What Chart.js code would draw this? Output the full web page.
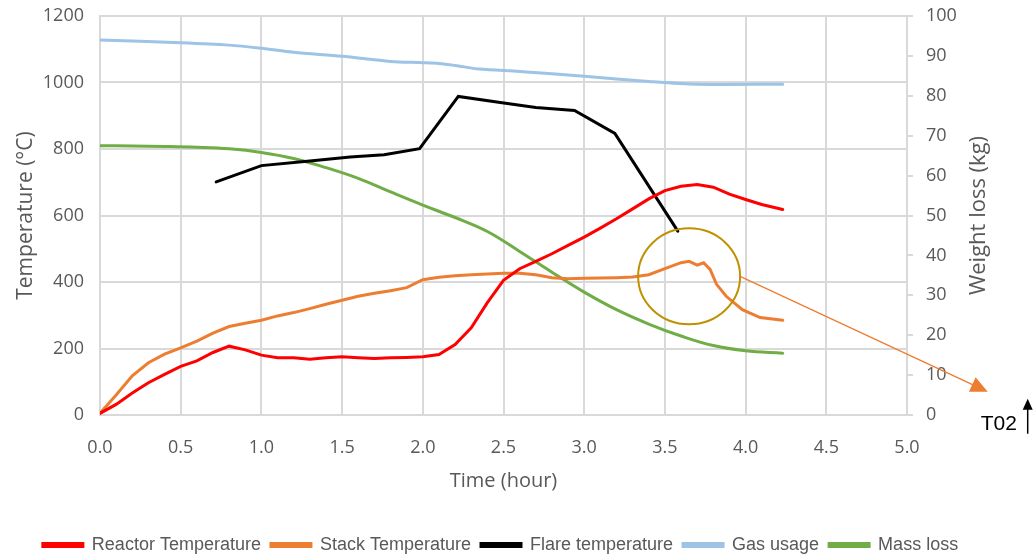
<!DOCTYPE html>
<html lang="en">
<head>
<meta charset="UTF-8">
<title>Reactor run T02 - temperatures and weight loss</title>
<script src="https://cdn.jsdelivr.net/npm/chart.js"></script>
<style>
  html, body { margin: 0; padding: 0; background: #fff; }
  .wrap { width: 1035px; height: 557px; position: relative; }
</style>
</head>
<body>
<div class="wrap"><canvas id="runChart"></canvas></div>
<script>
// time in hours, temperatures in degC, gas usage / mass loss in kg
const reactorTime = [0, 0.1, 0.2, 0.3, 0.4, 0.5, 0.6, 0.7, 0.8, 0.9, 1.0, 1.1, 1.2, 1.3, 1.4, 1.5, 1.6, 1.7, 1.8, 1.9, 2.0,
  2.1, 2.2, 2.3, 2.4, 2.5, 2.6, 2.7, 2.8, 2.9, 3.0, 3.1, 3.2, 3.3, 3.4, 3.5, 3.6, 3.7, 3.8, 3.9, 4.0, 4.1, 4.23];
const reactorTemp = [5, 32, 66, 97, 122, 146, 163, 188, 207, 196, 180, 172, 172, 168, 172, 175, 172, 170, 172, 173, 175,
  182, 212, 262, 338, 405, 440, 462, 485, 510, 535, 562, 590, 620, 650, 675, 688, 693, 685, 664, 648, 633, 618];

const stackTime = [0, 0.1, 0.2, 0.3, 0.4, 0.5, 0.6, 0.7, 0.8, 0.9, 1.0, 1.1, 1.2, 1.3, 1.4, 1.5, 1.6, 1.7, 1.8, 1.9, 2.0,
  2.1, 2.2, 2.3, 2.4, 2.5, 2.6, 2.7, 2.8, 2.9, 3.0, 3.1, 3.2, 3.3, 3.4, 3.5, 3.6, 3.65, 3.7, 3.74, 3.78, 3.82, 3.88, 3.98, 4.09, 4.23];
const stackTemp = [5, 60, 118, 157, 183, 202, 222, 246, 266, 276, 285, 298, 308, 320, 333, 345, 357, 366, 374, 383, 407,
  414, 419, 422, 424, 426, 426, 422, 413, 410, 411, 412, 413, 415, 422, 440, 458, 462, 451, 458, 438, 393, 357, 317, 293, 285];

const flareTime = [0.72, 1.0, 1.3, 1.55, 1.76, 1.98, 2.22, 2.48, 2.7, 2.94, 3.19, 3.58];
const flareTemp = [701, 750, 764, 776, 783, 801, 958, 940, 925, 916, 847, 553];

const gasTime = [0, 0.5, 0.8, 1.0, 1.2, 1.5, 1.8, 2.0, 2.1, 2.2, 2.35, 2.6, 3.0, 3.4, 3.7, 4.23];
const gasUsage = [94.0, 93.3, 92.7, 91.9, 90.9, 89.9, 88.6, 88.3, 88.1, 87.6, 86.7, 86.1, 84.9, 83.6, 82.9, 82.9];

const massTime = [0, 0.2, 0.4, 0.6, 0.8, 1.0, 1.2, 1.4, 1.6, 1.8, 2.0, 2.2, 2.4, 2.6, 2.8, 3.0, 3.2, 3.4, 3.6, 3.8, 4.0, 4.23];
const massLoss = [67.5, 67.4, 67.3, 67.1, 66.7, 65.8, 64.3, 62.0, 59.3, 55.9, 52.6, 49.5, 46.0, 41.0, 35.8, 30.8, 26.4, 22.8, 19.8, 17.4, 16.1, 15.5];

// the circled region and the arrow pointing off to the "T02" note
const calloutCenter = [3.65, 417];
const arrowTip = [5.5, 70];

const toPoints = (xs, ys) => xs.map((x, i) => ({ x: x, y: ys[i] }));

const greyText = '#595959';
const gridGrey = '#d9d9d9';
const tickFont = { family: "'Open Sans', sans-serif", size: 18 };

// stop the tick label overhang from pushing the plot down
const noVertPad = s => { s.paddingTop = 0; s.paddingBottom = 0; };

const calloutPlugin = {
  id: 'callout',
  afterLayout(chart) {
    // legend in the original sits a little left of centre
    chart.legend.left -= 17;
    chart.legend.right -= 17;
  },
  afterDatasetsDraw(chart) {
    const ctx = chart.ctx;
    const x = chart.scales.x, y = chart.scales.y;
    const cx = x.getPixelForValue(calloutCenter[0]);
    const cy = y.getPixelForValue(calloutCenter[1]);
    const rx = 51, ry = 48;
    ctx.save();
    ctx.strokeStyle = '#bf9000';
    ctx.lineWidth = 2;
    ctx.beginPath();
    ctx.ellipse(cx, cy, rx, ry, 0, 0, Math.PI * 2);
    ctx.stroke();

    // arrow line
    const tx = x.getPixelForValue(arrowTip[0]);
    const ty = y.getPixelForValue(arrowTip[1]);
    const sx = cx + rx, sy = cy;
    const ang = Math.atan2(ty - sy, tx - sx);
    ctx.strokeStyle = '#ed7d31';
    ctx.fillStyle = '#ed7d31';
    ctx.lineWidth = 1.3;
    ctx.beginPath();
    ctx.moveTo(sx, sy);
    ctx.lineTo(tx - 12 * Math.cos(ang), ty - 12 * Math.sin(ang));
    ctx.stroke();
    ctx.beginPath();
    ctx.moveTo(tx, ty);
    ctx.lineTo(tx - 17 * Math.cos(ang) + 8 * Math.sin(ang), ty - 17 * Math.sin(ang) - 8 * Math.cos(ang));
    ctx.lineTo(tx - 17 * Math.cos(ang) - 8 * Math.sin(ang), ty - 17 * Math.sin(ang) + 8 * Math.cos(ang));
    ctx.closePath();
    ctx.fill();

    // T02 note with upward arrow
    ctx.fillStyle = '#000';
    ctx.font = "21px 'Liberation Sans', Arial, sans-serif";
    ctx.textBaseline = 'alphabetic';
    ctx.textAlign = 'left';
    ctx.fillText('T02', tx - 7, ty + 38);
    const ax = tx + 40;
    ctx.strokeStyle = '#000';
    ctx.lineWidth = 1.5;
    ctx.beginPath();
    ctx.moveTo(ax, ty + 42);
    ctx.lineTo(ax, ty + 14);
    ctx.stroke();
    ctx.beginPath();
    ctx.moveTo(ax, ty + 7);
    ctx.lineTo(ax - 5, ty + 18);
    ctx.lineTo(ax + 5, ty + 18);
    ctx.closePath();
    ctx.fill();

    // right axis title, reading bottom to top like the left one
    const r = chart.scales.y1;
    ctx.translate(r.right - 56, (chart.chartArea.top + chart.chartArea.bottom) / 2);
    ctx.rotate(-Math.PI / 2);
    ctx.fillStyle = greyText;
    ctx.font = "22px 'Open Sans', sans-serif";
    ctx.textAlign = 'center';
    ctx.textBaseline = 'middle';
    ctx.fillText('Weight loss (kg)', 0, 0);
    ctx.restore();
  }
};

const ctx = document.getElementById('runChart').getContext('2d');
new Chart(ctx, {
  type: 'line',
  data: {
    datasets: [
      { label: 'Reactor Temperature', data: toPoints(reactorTime, reactorTemp), yAxisID: 'y',
        borderColor: '#ff0000', backgroundColor: '#ff0000' },
      { label: 'Stack Temperature', data: toPoints(stackTime, stackTemp), yAxisID: 'y',
        borderColor: '#ed7d31', backgroundColor: '#ed7d31' },
      { label: 'Flare temperature', data: toPoints(flareTime, flareTemp), yAxisID: 'y',
        borderColor: '#000000', backgroundColor: '#000000' },
      { label: 'Gas usage', data: toPoints(gasTime, gasUsage), yAxisID: 'y1',
        borderColor: '#9dc3e6', backgroundColor: '#9dc3e6', tension: 0.3 },
      { label: 'Mass loss', data: toPoints(massTime, massLoss), yAxisID: 'y1',
        borderColor: '#70ad47', backgroundColor: '#70ad47', tension: 0.4 }
    ]
  },
  options: {
    responsive: true,
    maintainAspectRatio: false,
    animation: false,
    layout: { padding: { top: 16, left: 0, right: 0, bottom: -7 } },
    elements: {
      point: { radius: 0, hoverRadius: 0 },
      line: { borderWidth: 3, fill: false, tension: 0, borderCapStyle: 'round' }
    },
    plugins: {
      tooltip: { enabled: false },
      legend: {
        position: 'bottom',
        labels: {
          boxWidth: 40,
          boxHeight: 3,
          padding: 10,
          color: greyText,
          font: { family: "'Liberation Sans', Arial, sans-serif", size: 18 }
        }
      }
    },
    scales: {
      x: {
        type: 'linear',
        min: 0,
        max: 5,
        afterFit: s => { s.height = 111; },
        grid: { color: gridGrey, lineWidth: 2, drawTicks: false },
        border: { color: gridGrey, width: 2 },
        ticks: { stepSize: 0.5, color: greyText, font: tickFont, padding: 22,
          callback: v => v.toFixed(1) },
        title: { display: true, text: 'Time (hour)', color: greyText,
          font: { family: "'Open Sans', sans-serif", size: 20 }, padding: { top: 0, bottom: 33 } }
      },
      y: {
        position: 'left',
        min: 0,
        max: 1200,
        afterFit: s => { s.width = 100; noVertPad(s); },
        grid: { color: gridGrey, lineWidth: 2, drawTicks: false },
        border: { color: gridGrey, width: 2 },
        ticks: { stepSize: 200, color: greyText, font: tickFont, padding: 16,
          callback: v => String(v) },
        title: { display: true, text: 'Temperature (°C)', color: greyText,
          font: { family: "'Open Sans', sans-serif", size: 21 }, padding: { top: 13, bottom: 0 } }
      },
      y1: {
        position: 'right',
        min: 0,
        max: 100,
        afterFit: s => { s.width = 128; noVertPad(s); },
        grid: { color: gridGrey, lineWidth: 2, drawOnChartArea: false, drawTicks: true, tickLength: 6 },
        border: { color: gridGrey, width: 2 },
        ticks: { stepSize: 10, color: greyText, font: tickFont, padding: 13 }
      }
    }
  },
  plugins: [calloutPlugin]
});
</script>
</body>
</html>
